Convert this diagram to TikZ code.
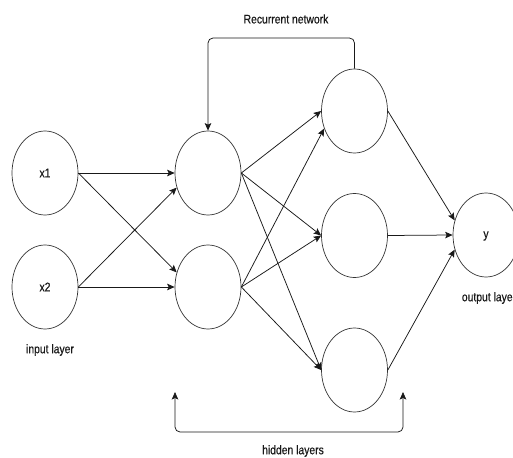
\documentclass[tikz,border=0pt]{standalone}
\usepackage{fontspec}
\setmainfont[FakeStretch=0.83,FakeBold=0.4]{Liberation Sans}
\usetikzlibrary{shapes.geometric,arrows.meta}
\begin{document}
\begin{tikzpicture}[x=1pt,y=-1pt,
  neuron/.style={draw=black!80,line width=0.7pt,ellipse,minimum width=66pt,minimum height=84pt,inner sep=0pt},
  lbl/.style={font=\fontsize{12.5}{14}\selectfont,text=black!90,inner sep=0pt},
  conn/.style={draw=black!90,line width=0.75pt,-{Stealth[length=7.5pt,width=6.5pt,inset=1.5pt]}},
  bracket/.style={draw=black!90,line width=0.75pt,rounded corners=5pt,{Stealth[length=7.5pt,width=6.5pt,inset=1.5pt]}-{Stealth[length=7.5pt,width=6.5pt,inset=1.5pt]}}]
\useasboundingbox (0,0) rectangle (513,457);
\fill[white] (0,0) rectangle (513,457);
% nodes
\node[neuron] (x1) at (45,173) {};
\node[neuron] (x2) at (45,287) {};
\node[neuron] (h1a) at (208,173) {};
\node[neuron] (h1b) at (208,287) {};
\node[neuron] (h2a) at (354.5,111) {};
\node[neuron] (h2b) at (354.5,235.5) {};
\node[neuron] (h2c) at (354.5,370) {};
\node[neuron] (y) at (486,235) {};
% texts
\node[lbl] (tx1) at (45,173) {x1};
\node[lbl] (tx2) at (45,287) {x2};
\node[lbl] (ty) at (486,236) {y};
\node[lbl] (trec) at (286,19) {Recurrent network};
\node[lbl] (tin) at (50,350) {input layer};
\node[lbl] (tout) at (489,298) {output layer};
\node[lbl] (thid) at (293,451) {hidden layers};
% input to hidden 1
\draw[conn] (x1.east) -- (h1a.west);
\draw[conn] (x1.east) -- (h1b.155);
\draw[conn] (x2.east) -- (h1a.205);
\draw[conn] (x2.east) -- (h1b.west);
% hidden 1 to hidden 2
\draw[conn] (h1a.east) -- (h2a.west);
\draw[conn] (h1a.east) -- (h2b.west);
\draw[conn] (h1a.east) -- (h2c.west);
\draw[conn] (h1b.east) -- (h2a.210);
\draw[conn] (h1b.east) -- (h2b.west);
\draw[conn] (h1b.east) -- (h2c.west);
% hidden 2 to output
\draw[conn] (h2a.east) -- (y.155);
\draw[conn] (h2b.east) -- (y.west);
\draw[conn] (h2c.east) -- (y.205);
% recurrent loop
\draw[conn,rounded corners=5pt] (h2a.north) |- (208,38) -- (h1a.north);
% hidden layers bracket
\coordinate (bl) at (175,392);
\coordinate (br) at (403,392);
\draw[bracket] (bl) -- (175,432) -- (403,432) -- (br);
\end{tikzpicture}
\end{document}
